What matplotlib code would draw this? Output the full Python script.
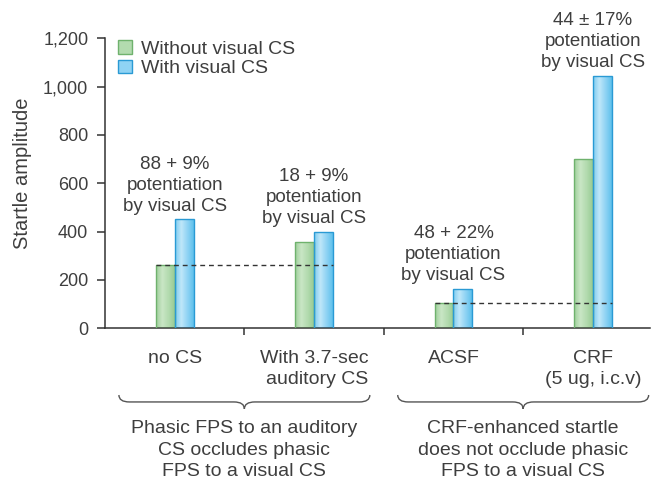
import numpy as np
import matplotlib.pyplot as plt
from matplotlib.path import Path
from matplotlib.patches import PathPatch, Patch
from matplotlib.colors import LinearSegmentedColormap

plt.rcParams['font.family'] = ['Liberation Sans', 'DejaVu Sans']

categories = ['no CS', 'With 3.7-sec\nauditory CS', 'ACSF', 'CRF\n(5 ug, i.c.v)']
without_cs = [260, 358, 103, 702]
with_cs = [452, 400, 164, 1046]
notes = ['88 + 9%', '18 + 9%', '48 + 22%', '44 ± 17%']
groups = ['Phasic FPS to an auditory\nCS occludes phasic\nFPS to a visual CS',
          'CRF-enhanced startle\ndoes not occlude phasic\nFPS to a visual CS']

TXT = '#3e3e3e'
AX = '#333333'

fig = plt.figure(figsize=(6.52, 4.83), dpi=100)
ax = fig.add_axes([0.161, 0.3203, 0.836, 0.6004])

x = np.arange(len(categories))
w = 0.136

green_cmap = LinearSegmentedColormap.from_list('g', ['#9fcf9b', '#c9e6c5', '#b3dbaf', '#98cb94'])
blue_cmap = LinearSegmentedColormap.from_list('b', ['#7ecbf0', '#bfe7f9', '#8fd3f4', '#5fc0ec'])

b1 = ax.bar(x - w / 2, without_cs, w, facecolor='none', edgecolor='#6fb26d', lw=1.0, zorder=3)
b2 = ax.bar(x + w / 2, with_cs, w, facecolor='none', edgecolor='#2a9ad4', lw=1.0, zorder=3)

# horizontal gradient fill inside each bar
grad = np.linspace(0, 1, 64).reshape(1, -1)
for bars, cmap in ((b1, green_cmap), (b2, blue_cmap)):
    for bar in bars:
        x0, y0 = bar.get_x(), bar.get_y()
        im = ax.imshow(grad, cmap=cmap, aspect='auto', zorder=2,
                       extent=[x0, x0 + bar.get_width(), y0, y0 + bar.get_height()])
        im.set_clip_path(bar)

ax.set_xlim(-0.5, 3.41)
ax.set_ylim(0, 1200)

# dashed reference lines at the baseline (no visual CS) level
ax.plot([x[0] - w, x[1] + w], [without_cs[0]] * 2, ls=(0, (3.5, 2.8)), color=AX, lw=1.0, zorder=4)
ax.plot([x[2] - w, x[3] + w], [without_cs[2]] * 2, ls=(0, (3.5, 2.8)), color=AX, lw=1.0, zorder=4)

for xi, top, note in zip(x, with_cs, notes):
    ax.annotate(note + '\npotentiation\nby visual CS', xy=(xi, top), xytext=(0, 3),
                textcoords='offset points', ha='center', va='bottom',
                fontsize=13.5, color=TXT, linespacing=1.32, annotation_clip=False)

for s in ('top', 'right'):
    ax.spines[s].set_visible(False)
for s in ('left', 'bottom'):
    ax.spines[s].set_color(AX)
    ax.spines[s].set_linewidth(1.1)

ax.set_yticks(np.arange(0, 1201, 200))
ax.set_yticklabels([f'{v:,}' for v in range(0, 1201, 200)])
ax.tick_params(axis='y', length=6, width=1.1, pad=6, labelsize=13, colors=AX, labelcolor=TXT)
ax.set_xticks([0.5, 1.5, 2.5])
ax.set_xticklabels([])
ax.tick_params(axis='x', length=5, width=1.1, colors=AX)

ax.set_ylabel('Startle amplitude', fontsize=14.5, color=TXT)
ax.yaxis.set_label_coords(-0.134, 0.536)

trans = ax.get_xaxis_transform()
for xi, lab in zip(x, categories):
    ax.text(xi, -0.075, lab, transform=trans, ha='center', va='top',
            multialignment='right' if xi == 1 else 'center',
            fontsize=14, color=TXT, linespacing=1.3)


def brace(xa, xb, xc, ytop, ymid, ybot, r=0.075):
    verts = [(xa, ytop), (xa, ymid), (xa + r, ymid), (xc - r, ymid),
             (xc, ymid), (xc, ybot), (xc, ymid), (xc + r, ymid),
             (xb - r, ymid), (xb, ymid), (xb, ytop)]
    codes = [Path.MOVETO, Path.CURVE3, Path.CURVE3, Path.LINETO,
             Path.CURVE3, Path.CURVE3, Path.CURVE3, Path.CURVE3,
             Path.LINETO, Path.CURVE3, Path.CURVE3]
    ax.add_patch(PathPatch(Path(verts, codes), transform=trans, fill=False,
                           edgecolor='#555555', lw=1.0, clip_on=False))


for gc, text in zip([0.5, 2.5], groups):
    brace(gc - 0.9, gc + 0.9, gc, -0.230, -0.254, -0.278)
    ax.text(gc, -0.316, text, transform=trans, ha='center', va='top',
            fontsize=14, color=TXT, linespacing=1.36)

handles = [Patch(facecolor='#b3dbaf', edgecolor='#6fb26d', label='Without visual CS'),
           Patch(facecolor='#8fd3f4', edgecolor='#2a9ad4', label='With visual CS')]
leg = ax.legend(handles=handles, loc='upper left', bbox_to_anchor=(0.01, 1.02),
                frameon=False, fontsize=14, handlelength=0.7, handleheight=0.7,
                handletextpad=0.45, labelspacing=0.1, borderaxespad=0)
for t in leg.get_texts():
    t.set_color(TXT)

fig.savefig('out.png', dpi=100)
